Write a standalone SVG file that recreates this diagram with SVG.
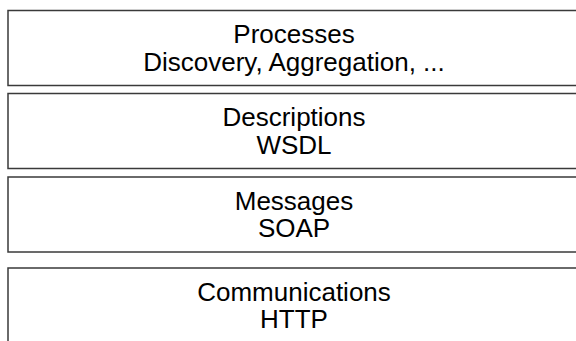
<svg xmlns="http://www.w3.org/2000/svg" width="576" height="341" viewBox="0 0 576 341">
<style>
.box{fill:#fff;stroke:#3a3a3a;stroke-width:1.5}
.t{font-family:"Liberation Sans",Arial,sans-serif;font-size:26px;fill:#000;text-anchor:middle}
</style>
<rect width="576" height="341" fill="#fff"/>
<g id="processes">
<rect class="box" x="8" y="10.5" width="580" height="75"/>
<text class="t" x="294" y="43">Processes</text>
<text class="t" x="294" y="70.5">Discovery, Aggregation, ...</text>
</g>
<g id="descriptions">
<rect class="box" x="8" y="93.5" width="580" height="75"/>
<text class="t" x="294" y="126">Descriptions</text>
<text class="t" x="294" y="153.5">WSDL</text>
</g>
<g id="messages">
<rect class="box" x="8" y="177" width="580" height="75"/>
<text class="t" x="294" y="209.5">Messages</text>
<text class="t" x="294" y="237">SOAP</text>
</g>
<g id="communications">
<rect class="box" x="8" y="268" width="580" height="90"/>
<text class="t" x="294" y="300.5">Communications</text>
<text class="t" x="294" y="328">HTTP</text>
</g>
<g id="connectors"/>
</svg>
